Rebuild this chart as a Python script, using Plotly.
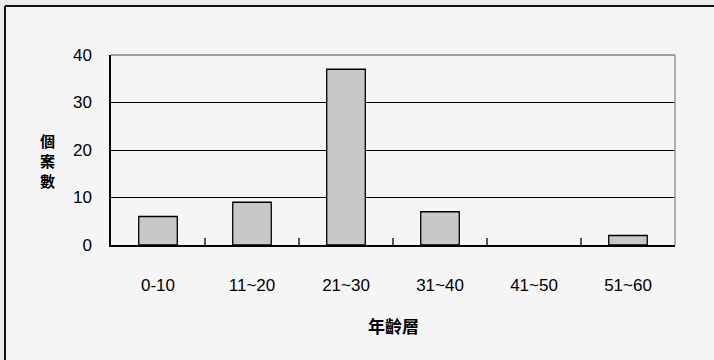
import plotly.graph_objects as go

categories = ["0-10", "11~20", "21~30", "31~40", "41~50", "51~60"]
counts = [6, 9, 37, 7, 0, 2]
y_ticks = [0, 10, 20, 30, 40]
x_title = "年齡層"
y_title_chars = ["個", "案", "數"]

W, H = 714, 360
L, R, T, B = 111, 39, 55, 115
pw, ph = W - L - R, H - T - B

def px_x(px):
    return (px - L) / pw

def px_y(py):
    return (H - B - py) / ph

fig = go.Figure()
fig.add_trace(go.Bar(
    x=categories, y=counts, width=0.41,
    marker=dict(color="#c8c8c8",
                line=dict(color="#000000", width=[1.3 if v > 0 else 0 for v in counts])),
    showlegend=False,
))

tick_font = dict(family="Liberation Sans, Arial, sans-serif", size=17, color="#000000")
cjk = "Noto Sans CJK TC, sans-serif"

fig.update_layout(
    width=W, height=H,
    margin=dict(l=L, r=R, t=T, b=B, pad=0),
    paper_bgcolor="#ebebeb",
    plot_bgcolor="rgba(0,0,0,0)",
    bargap=0.59,
    xaxis=dict(
        type="category", range=[-0.5, 5.5],
        showline=True, linecolor="#000000", linewidth=1.5,
        ticks="inside", ticklen=7, tickcolor="#555555", tickwidth=1.5,
        tickson="boundaries", showgrid=False,
        tickfont=tick_font, ticklabelstandoff=24,
        layer="above traces",
    ),
    yaxis=dict(
        range=[0, 40], tickvals=y_ticks,
        showline=True, linecolor="#000000", linewidth=1.5,
        showgrid=True, gridcolor="#000000", gridwidth=1.2,
        ticks="", tickfont=tick_font, ticklabelstandoff=14,
        zeroline=False, layer="above traces",
    ),
    shapes=[
        dict(type="rect", xref="paper", yref="paper", layer="below",
             x0=px_x(5), x1=2, y0=-2, y1=px_y(6),
             fillcolor="#f5f5f5", line=dict(width=0)),
        dict(type="line", xref="paper", yref="paper", layer="above",
             x0=px_x(5), x1=2, y0=px_y(6), y1=px_y(6),
             line=dict(color="#111111", width=2)),
        dict(type="line", xref="paper", yref="paper", layer="above",
             x0=px_x(5), x1=px_x(5), y0=-2, y1=px_y(6),
             line=dict(color="#111111", width=2)),
        dict(type="line", xref="paper", yref="paper", layer="above",
             x0=0, x1=1, y0=1, y1=1,
             line=dict(color="#808080", width=1.5)),
        dict(type="line", xref="paper", yref="paper", layer="above",
             x0=1, x1=1, y0=0, y1=1,
             line=dict(color="#999999", width=1.5)),
    ],
)

annotations = [
    dict(
        text=x_title, xref="paper", yref="paper", x=0.5, y=px_y(325),
        showarrow=False, xanchor="center", yanchor="middle",
        font=dict(family=cjk, size=17, color="#000000", weight="bold"),
    ),
]
for ch, cy in zip(y_title_chars, [140, 160, 180]):
    annotations.append(dict(
        text=ch, xref="paper", yref="paper", x=px_x(47), y=px_y(cy),
        showarrow=False, xanchor="center", yanchor="middle", borderpad=0,
        font=dict(family=cjk, size=15, color="#000000", weight="bold"),
    ))
fig.update_layout(annotations=annotations)

fig.write_html("out.html")
